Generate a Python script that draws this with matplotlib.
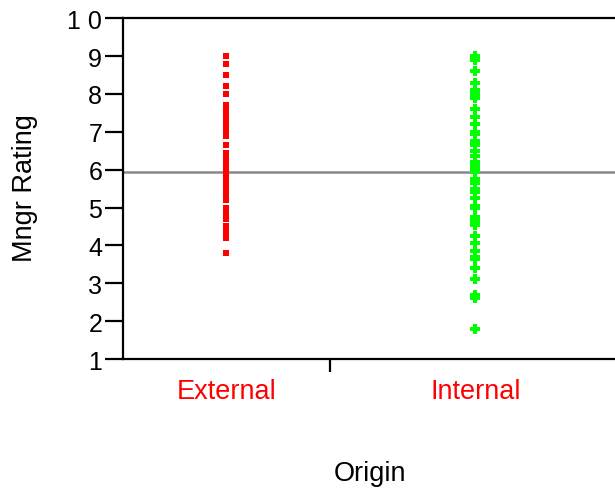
import numpy as np
import matplotlib
matplotlib.use('Agg')
import matplotlib.pyplot as plt

plt.rcParams['font.family'] = ['Liberation Sans', 'DejaVu Sans']

# data
groups = ['External', 'Internal']
group_share = [0.415, 0.585]   # JMP proportional category widths
external = [9.0, 8.8, 8.5, 8.2, 8.0, 7.7, 7.6, 7.5, 7.4, 7.3, 7.2, 7.1, 7.0, 6.9,
            6.65, 6.45, 6.3, 6.2, 6.1, 6.0, 5.9, 5.8, 5.7, 5.6, 5.5, 5.4, 5.3, 5.2,
            5.0, 4.9, 4.8, 4.7, 4.5, 4.4, 4.3, 4.2, 3.8]
internal = [9.0, 8.9, 8.6, 8.3, 8.1, 8.0, 7.9, 7.6, 7.4, 7.2, 7.0, 6.95, 6.75,
            6.65, 6.5, 6.35, 6.2, 6.1, 6.0, 5.95, 5.75, 5.65, 5.5, 5.4, 5.25, 5.05,
            5.0, 4.75, 4.65, 4.55, 4.25, 4.05, 3.85, 3.7, 3.65, 3.4, 3.1, 2.7, 2.6, 1.8]
grand_mean = 5.93
yticks = list(range(1, 11))
ytick_labels = ['1', '2', '3', '4', '5', '6', '7', '8', '9', '1 0']

fig = plt.figure(figsize=(6.15, 4.89), dpi=100)
ax = fig.add_axes([0.2, 0.2638, 0.81, 0.697])

edges = np.concatenate([[0], np.cumsum(group_share)])
centers = (edges[:-1] + edges[1:]) / 2

ax.plot(np.full(len(external), centers[0]), external, ls='none', marker='s',
        ms=4.6, mew=0, color='#ff0000')
ax.plot(np.full(len(internal), centers[1]), internal, ls='none', marker='P',
        ms=6.5, mew=0, color='#00ff00')
ax.axhline(grand_mean, color='#888888', lw=1.8, zorder=0)

ax.set_xlim(0, 1)
ax.set_ylim(1, 10)
ax.set_yticks(yticks)
ax.set_yticklabels(ytick_labels, fontsize=18)
ax.tick_params(axis='y', direction='out', length=13, width=1.6, pad=2)

ax.set_xticks(edges[1:-1])
ax.set_xticklabels([])
ax.tick_params(axis='x', direction='out', length=9, width=1.6)
for c, g in zip(centers, groups):
    ax.text(c, -0.094, g, transform=ax.transAxes, ha='center', va='center',
            color='#ff0000', fontsize=19.5)

for s in ax.spines.values():
    s.set_linewidth(1.6)

fig.text(370 / 615, 1 - 474 / 489, 'Origin', ha='center', va='center', fontsize=19.5)
fig.text(25 / 615, 1 - 188 / 489, 'Mngr Rating', rotation=90, ha='center',
         va='center', fontsize=19.5)

fig.savefig('out.png', dpi=100)
